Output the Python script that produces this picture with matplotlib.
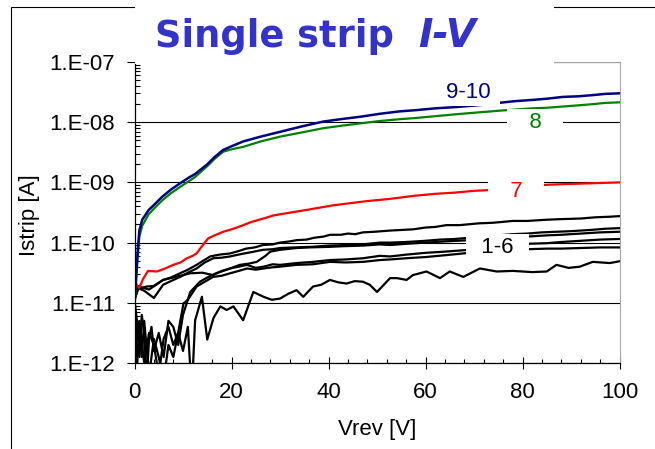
import numpy as np
import matplotlib
matplotlib.use("Agg")
import matplotlib.pyplot as plt
from matplotlib.patches import Rectangle
from matplotlib.ticker import MultipleLocator, LogLocator, FuncFormatter, NullFormatter

plt.rcParams['font.family'] = ['Liberation Sans', 'DejaVu Sans']

# strips 9-10 (navy) and 8 (green), log10 of current in A
v_hi = [0, 0.3, 0.6, 1.0, 1.6, 2.9, 4.2, 5.7, 7.5, 9.5, 11.0, 12.5, 13.6, 15.0, 16.5, 18.3, 20.0, 22.4, 26.0, 30.0,
        34.5, 38.9, 42.5, 46.5, 50.6, 54.7, 58.0, 62.0, 66.0, 69.0, 72.0, 75.0, 78.5, 82.0, 85.0, 88.3, 91.5, 94.5, 97.0, 100.0]
strip_9_10 = [-11.0, -10.6, -10.2, -9.8, -9.62, -9.46, -9.36, -9.24, -9.12, -9.01, -8.93, -8.86, -8.79, -8.70, -8.58,
              -8.46, -8.40, -8.32, -8.24, -8.16, -8.07, -7.99, -7.95, -7.91, -7.86, -7.82, -7.80, -7.77, -7.75, -7.73,
              -7.71, -7.68, -7.65, -7.63, -7.61, -7.58, -7.57, -7.55, -7.53, -7.52]
strip_8 = [-11.1, -10.7, -10.3, -9.9, -9.72, -9.53, -9.42, -9.30, -9.18, -9.07, -8.99, -8.91, -8.83, -8.73, -8.61,
           -8.49, -8.45, -8.41, -8.32, -8.24, -8.17, -8.10, -8.06, -8.02, -7.98, -7.95, -7.93, -7.90, -7.87, -7.85,
           -7.83, -7.81, -7.79, -7.77, -7.76, -7.74, -7.72, -7.70, -7.68, -7.67]

# strip 7 (red)
v_7 = [0, 0.15, 0.6, 1.0, 1.8, 2.8, 4.6, 6.0, 8.0, 9.5, 10.8, 12.0, 12.8, 14.0, 15.2, 16.5, 18.3, 20.0, 21.8, 24.0,
       26.6, 28.6, 30.0, 33.0, 36.0, 41.0, 45.0, 48.0, 52.0, 55.0, 58.0, 62.0, 66.0, 70.0, 72.6, 76.0, 80.0, 84.9, 88.0,
       92.0, 96.0, 100.0]
strip_7 = [-10.95, -10.65, -10.72, -10.75, -10.6, -10.47, -10.48, -10.44, -10.37, -10.33, -10.26, -10.22, -10.18, -10.05,
           -9.93, -9.88, -9.82, -9.78, -9.73, -9.66, -9.60, -9.55, -9.53, -9.49, -9.45, -9.38, -9.34, -9.31, -9.28, -9.25,
           -9.22, -9.19, -9.17, -9.14, -9.13, -9.10, -9.07, -9.04, -9.03, -9.02, -9.01, -9.00]

# strips 1-6 (black)
v_b1 = [0, 0.5, 1.5, 2.5, 4.0, 5.9, 7.5, 9.4, 11.0, 12.8, 14.2, 15.6, 17.5, 19.7, 21.5, 23.0, 24.8, 26.5, 28.5, 30.0,
        32.0, 33.4, 35.5, 37.0, 39.0, 40.3, 42.5, 44.0, 45.5, 47.1, 49.5, 52.7, 55.0, 57.4, 60.0, 62.0, 64.3, 67.0, 71.0,
        74.0, 78.0, 81.0, 85.0, 88.0, 92.0, 95.0, 98.0, 100.0]
b1 = [-10.95, -10.73, -10.75, -10.73, -10.72, -10.62, -10.58, -10.51, -10.45, -10.37, -10.30, -10.23, -10.20, -10.18,
      -10.14, -10.10, -10.08, -10.04, -10.03, -10.00, -9.98, -9.96, -9.95, -9.92, -9.90, -9.87, -9.87, -9.85, -9.86,
      -9.83, -9.82, -9.80, -9.79, -9.78, -9.75, -9.74, -9.71, -9.71, -9.68, -9.67, -9.64, -9.64, -9.62, -9.61, -9.60,
      -9.58, -9.57, -9.56]

v_b2 = [0, 0.8, 2.0, 3.0, 4.0, 5.9, 7.5, 9.4, 11.0, 12.8, 14.5, 16.2, 18.0, 19.7, 22.0, 24.0, 26.5, 28.5, 30.0, 33.0,
        36.6, 40.0, 43.6, 47.0, 50.6, 52.7, 56.0, 60.0, 63.0, 66.0, 69.0, 72.0, 75.0, 78.0, 81.0, 84.0, 87.0, 90.0, 94.0,
        97.0, 100.0]
b2 = [-10.95, -10.76, -10.80, -10.86, -10.92, -10.70, -10.64, -10.57, -10.50, -10.43, -10.33, -10.26, -10.25, -10.23,
      -10.19, -10.16, -10.12, -10.11, -10.09, -10.08, -10.07, -10.05, -10.04, -10.03, -10.00, -10.00, -9.99, -9.97,
      -9.95, -9.94, -9.92, -9.90, -9.88, -9.86, -9.85, -9.83, -9.82, -9.81, -9.79, -9.77, -9.76]

v_b3 = [0, 0.5, 1.0, 1.5, 2.0, 2.5, 3.0, 3.5, 4.0, 5.0, 6.0, 7.0, 8.0, 9.0, 10.0, 11.5, 13.5, 15.0, 16.8, 19.0, 21.7,
        23.5, 25.2, 27.0, 28.0, 30.0, 33.4, 36.0, 40.3, 43.0, 47.0, 50.6, 52.7, 56.0, 60.0, 64.0, 69.0, 72.0, 75.0, 78.0,
        81.0, 85.0, 88.0, 92.0, 96.0, 100.0]
b3 = [-10.95, -11.30, -11.90, -11.20, -11.50, -12.30, -11.60, -11.40, -11.80, -11.50, -11.90, -11.30, -11.40, -11.70,
      -11.20, -10.82, -10.65, -10.58, -10.51, -10.45, -10.37, -10.35, -10.32, -10.22, -10.15, -10.12, -10.09, -10.08,
      -10.07, -10.06, -10.05, -10.03, -10.04, -10.02, -10.00, -9.98, -9.96, -9.94, -9.92, -9.91, -9.90, -9.88, -9.87,
      -9.85, -9.83, -9.82]

v_b4 = [0, 0.8, 3.0, 5.9, 8.5, 11.5, 14.0, 16.2, 18.0, 19.7, 21.5, 23.2, 25.0, 26.6, 28.5, 30.0, 33.4, 36.8, 40.3, 43.5,
        47.1, 50.6, 52.7, 56.0, 60.0, 64.0, 69.0, 72.0, 75.0, 78.0, 81.0, 85.0, 88.0, 92.0, 96.0, 100.0]
b4 = [-10.95, -10.73, -10.78, -10.62, -10.57, -10.51, -10.50, -10.54, -10.47, -10.43, -10.40, -10.37, -10.42, -10.40,
      -10.36, -10.37, -10.34, -10.32, -10.29, -10.28, -10.26, -10.22, -10.23, -10.20, -10.17, -10.15, -10.12, -10.09,
      -10.07, -10.05, -10.02, -10.01, -9.99, -9.97, -9.95, -9.94]

v_b5 = [0, 0.5, 1.0, 2.0, 3.0, 4.0, 5.0, 6.0, 7.0, 8.0, 9.0, 10.1, 11.0, 12.8, 14.5, 16.2, 18.0, 19.7, 21.5, 23.2, 25.0,
        26.6, 28.5, 30.0, 33.4, 36.8, 40.3, 43.5, 47.1, 50.6, 52.7, 56.0, 60.0, 64.0, 69.0, 72.0, 75.0, 78.0, 81.0, 85.0,
        88.0, 92.0, 96.0, 100.0]
b5 = [-10.95, -11.60, -11.30, -12.00, -11.50, -11.70, -12.20, -11.60, -11.40, -11.70, -11.50, -11.01, -10.95, -10.73,
      -10.65, -10.57, -10.55, -10.51, -10.47, -10.43, -10.45, -10.43, -10.41, -10.40, -10.37, -10.36, -10.32, -10.33,
      -10.32, -10.29, -10.28, -10.26, -10.24, -10.21, -10.17, -10.15, -10.14, -10.12, -10.11, -10.10, -10.10, -10.09,
      -10.08, -10.08]

v_b6 = [0, 0.5, 1.0, 1.5, 2.0, 3.0, 4.0, 5.0, 6.0, 7.0, 8.0, 9.0, 10.0, 11.0, 11.8, 12.5, 13.9, 15.0, 16.3, 17.7, 19.0,
        20.4, 22.4, 24.5, 26.6, 28.3, 30.0, 31.7, 33.4, 34.8, 36.8, 38.5, 40.3, 42.0, 43.7, 45.4, 47.1, 48.5, 50.0, 52.7,
        54.1, 56.1, 57.4, 60.2, 63.0, 65.0, 67.8, 71.2, 74.7, 78.0, 82.0, 85.0, 87.0, 89.5, 91.8, 94.5, 98.0, 100.0]
b6 = [-10.95, -12.10, -11.40, -11.90, -11.30, -12.20, -11.60, -11.90, -12.30, -11.70, -11.90, -11.50, -11.80, -11.40,
      -12.50, -11.29, -10.90, -11.61, -11.25, -11.06, -11.12, -11.06, -11.29, -10.82, -10.90, -10.95, -10.93, -10.85,
      -10.79, -10.90, -10.73, -10.70, -10.62, -10.66, -10.68, -10.64, -10.65, -10.70, -10.82, -10.59, -10.59, -10.62,
      -10.54, -10.48, -10.59, -10.48, -10.57, -10.43, -10.48, -10.47, -10.49, -10.48, -10.37, -10.42, -10.40, -10.32,
      -10.34, -10.31]

# curve labels: text, V position, log10 I position, colour
labels = [(' 9-10 ', 68.9, -7.50, '#000080'),
          ('   8   ', 82.6, -8.01, '#008000'),
          ('   7   ', 78.7, -9.15, '#FF0000'),
          ('  1-6  ', 74.8, -10.08, 'black')]


def amps(logs):
    return 10.0 ** np.array(logs)


W, H = 655, 449
fig = plt.figure(figsize=(W / 100, H / 100), dpi=100)
ax = fig.add_axes([134.5 / W, 1 - 363 / H, 485 / W, 301 / H])

for v, b in [(v_b6, b6), (v_b5, b5), (v_b4, b4), (v_b3, b3), (v_b2, b2), (v_b1, b1)]:
    ax.plot(v, amps(b), color='black', lw=1.6)
ax.plot(v_7, amps(strip_7), color='#FF0000', lw=1.6)
ax.plot(v_hi, amps(strip_8), color='#008000', lw=1.6)
ax.plot(v_hi, amps(strip_9_10), color='#000080', lw=1.8)

for txt, x, y, c in labels:
    ax.text(x, 10.0 ** y, txt, color=c, fontsize=16, ha='center', va='center',
            bbox=dict(boxstyle='square,pad=0.15', fc='white', ec='none'), zorder=4)

ax.set_yscale('log')
ax.set_xlim(0, 100)
ax.set_ylim(1e-12, 1e-7)

ax.xaxis.set_major_locator(MultipleLocator(20))
ax.xaxis.set_minor_locator(MultipleLocator(4))
ax.yaxis.set_major_locator(LogLocator(base=10, numticks=10))
ax.yaxis.set_minor_locator(LogLocator(base=10, subs=range(2, 10), numticks=10))
ax.yaxis.set_major_formatter(FuncFormatter(lambda val, pos: f"1.E{int(round(np.log10(val))):03d}"))
ax.yaxis.set_minor_formatter(NullFormatter())

ax.tick_params(axis='x', which='major', direction='inout', length=9, width=0.8, labelsize=16, pad=9)
ax.tick_params(axis='x', which='minor', direction='in', length=3, width=0.8)
ax.tick_params(axis='y', which='major', direction='out', length=6, width=0.8, labelsize=16, pad=8)
ax.tick_params(axis='y', which='minor', direction='in', length=3.5, width=0.8)

ax.yaxis.grid(True, which='major', color='black', lw=0.8)
ax.set_axisbelow(True)
for s in ['top', 'right']:
    ax.spines[s].set_color('#A6A6A6')
for s in ['left', 'bottom']:
    ax.spines[s].set_linewidth(0.9)

ax.set_xlabel('Vrev [V]', fontsize=16, va='center')
ax.xaxis.set_label_coords(0.5, (363 - 430) / 301)
ax.set_ylabel('Istrip [A]', fontsize=16, va='center')
ax.yaxis.set_label_coords((30 - 134.5) / 485, (363 - 215) / 301)

# outer slide frame and the white box behind the title
fig.add_artist(Rectangle((10.5 / W, -0.1), 1.2, 1 - 7 / H + 0.1, transform=fig.transFigure,
                         fill=False, edgecolor='black', lw=0.8, zorder=4))
fig.add_artist(Rectangle((135 / W, 1 - 63.5 / H), (554 - 135) / W, 59 / H, transform=fig.transFigure,
                         facecolor='white', edgecolor='none', zorder=5))
fig.text(155 / W, 1 - 47 / H, 'Single strip', fontsize=26.5, fontweight='bold', color='#3333CC',
         family='DejaVu Sans', va='baseline', zorder=6)
fig.text(418 / W, 1 - 47 / H, 'I-V', fontsize=28, fontweight='bold', fontstyle='italic', color='#3333CC',
         family='DejaVu Sans', va='baseline', zorder=6)

fig.savefig('out.png', dpi=100)
